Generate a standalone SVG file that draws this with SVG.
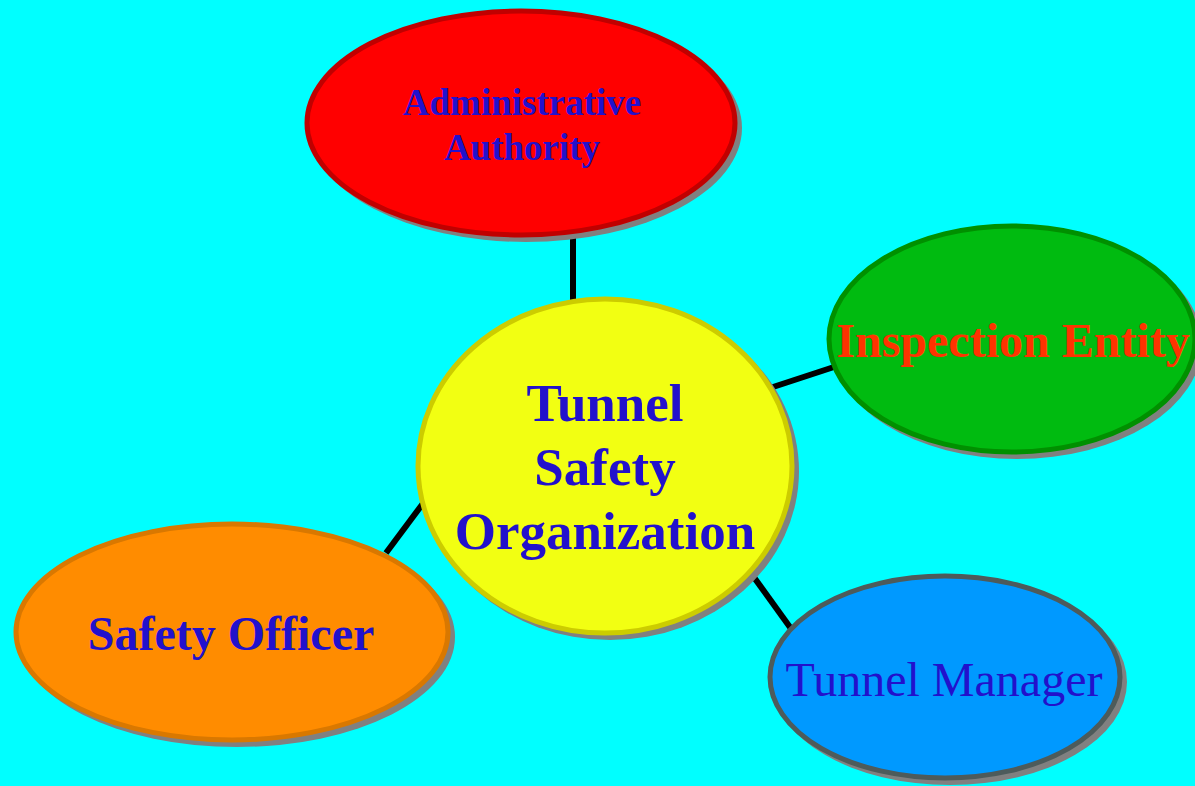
<svg xmlns="http://www.w3.org/2000/svg" width="1195" height="786" viewBox="0 0 1195 786">
<style>
.shadow{fill:#808080;stroke:none}
.node{stroke-width:5}
.lbl{font-family:"Liberation Serif","Times New Roman",serif;text-anchor:middle;fill:#2211cc}
.b{font-weight:bold}
.conn{stroke:#000;stroke-width:6;fill:none}
</style>
<rect width="1195" height="786" fill="#00ffff"/>
<g id="connectors">
<line class="conn" x1="573" y1="238" x2="573" y2="300"/>
<line class="conn" x1="770" y1="388" x2="834" y2="367"/>
<line class="conn" x1="386" y1="553" x2="424" y2="502"/>
<line class="conn" x1="753" y1="576" x2="792" y2="630"/>
</g>
<g id="admin">
<ellipse class="shadow" cx="526" cy="128" rx="216" ry="114"/>
<ellipse class="node" cx="521" cy="123" rx="214" ry="112" fill="#ff0000" stroke="#c00000"/>
<text class="lbl b" x="522" y="115" font-size="37">Administrative</text>
<text class="lbl b" x="522" y="160" font-size="37">Authority</text>
</g>
<g id="inspection">
<ellipse class="shadow" cx="1017" cy="344" rx="185" ry="115"/>
<ellipse class="node" cx="1012" cy="339" rx="183" ry="113" fill="#00bb10" stroke="#009000"/>
<text class="lbl b" x="1013" y="357" font-size="48" fill="#ff3300" style="fill:#ff3300">Inspection Entity</text>
</g>
<g id="center">
<ellipse class="shadow" cx="610" cy="471" rx="189" ry="169"/>
<ellipse class="node" cx="605" cy="466" rx="187" ry="167" fill="#f2ff12" stroke="#cccc00"/>
<text class="lbl b" x="605" y="421" font-size="53">Tunnel</text>
<text class="lbl b" x="605" y="485" font-size="53">Safety</text>
<text class="lbl b" x="605" y="549" font-size="53">Organization</text>
</g>
<g id="officer">
<ellipse class="shadow" cx="237" cy="637" rx="218" ry="110"/>
<ellipse class="node" cx="232" cy="632" rx="216" ry="108" fill="#ff8c00" stroke="#d97800"/>
<text class="lbl b" x="231" y="650" font-size="48">Safety Officer</text>
</g>
<g id="manager">
<ellipse class="shadow" cx="950" cy="682" rx="177" ry="103"/>
<ellipse class="node" cx="945" cy="677" rx="175" ry="101" fill="#0099ff" stroke="#4d5b5b"/>
<text class="lbl" x="944" y="696" font-size="48">Tunnel Manager</text>
</g>
</svg>
